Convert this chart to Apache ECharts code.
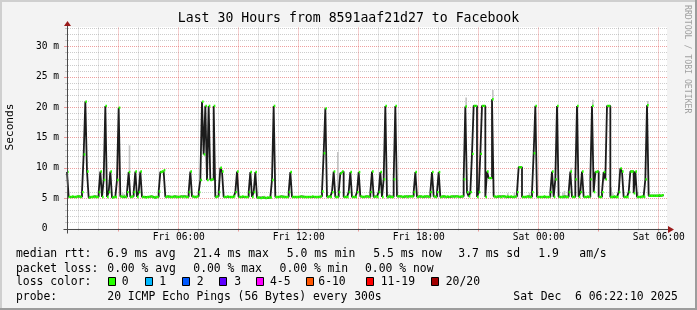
<!DOCTYPE html>
<html><head><meta charset="utf-8">
<script src="https://cdn.jsdelivr.net/npm/echarts@6/dist/echarts.min.js"></script>
<style>html,body{margin:0;padding:0;background:#f3f3f3}#c{width:697px;height:310px}</style>
</head><body><div id="c"></div>
<script>
// time axis in hours after Fri 00:00; first 5-minute sample starts at T0
const T0 = 0.45;
const STEP = 5 / 60;
const SPAN = 30;
const YMAX = 33.2;

// median rtt (ms), one value per 5-minute step, 12 per hour
const medianRtt = [
  9.3,5.2,5.2,5.3,5.2,5.2,5.3,5.3,5.2,6.0,12.2,20.9,
  9.4,5.1,5.2,5.2,5.3,5.2,5.2,6.0,9.4,5.2,8.0,20.2,
  5.2,6.0,9.4,5.1,5.2,5.2,8.0,19.9,5.3,5.2,5.3,5.2,
  6.0,9.3,5.2,5.3,6.0,9.4,5.2,6.0,9.4,5.2,5.2,5.1,
  5.2,5.2,5.3,5.2,5.1,5.2,5.2,6.1,9.3,9.4,9.6,5.2,
  5.3,5.2,5.2,5.2,5.3,5.2,5.2,5.2,5.3,5.2,5.3,5.2,
  5.2,6.0,9.4,5.3,5.2,5.2,5.3,6.0,8.0,20.9,12.2,20.2,
  8.0,20.2,8.0,8.1,20.2,5.2,5.3,6.0,10.0,9.4,5.2,5.2,
  5.3,5.2,5.2,5.2,5.3,6.0,9.4,5.2,5.2,5.3,5.2,5.2,
  5.2,6.0,9.3,5.2,6.0,9.3,5.1,5.1,5.0,5.1,5.1,5.0,
  5.1,5.1,5.1,8.0,20.2,5.2,5.2,5.2,5.3,5.2,5.2,5.2,
  5.2,6.0,9.3,5.2,5.2,5.2,5.2,5.2,5.3,5.2,5.2,5.2,
  5.2,5.2,5.2,5.3,5.2,5.2,5.2,5.2,5.3,6.1,12.4,19.8,
  5.2,5.3,5.2,6.0,9.4,5.2,5.2,6.0,9.1,9.4,5.2,5.2,
  5.2,6.0,9.3,5.2,5.2,5.2,6.0,9.3,5.3,5.2,5.2,5.3,
  5.3,5.2,6.0,9.4,5.2,5.3,5.2,6.0,9.3,5.2,8.1,20.2,
  5.2,5.3,5.2,5.2,8.1,20.2,5.3,5.3,5.3,5.2,5.3,5.3,
  5.2,5.3,5.3,5.3,6.0,9.3,5.2,5.3,5.3,5.2,5.3,5.3,
  5.3,5.2,6.0,9.3,5.3,5.2,6.0,9.3,5.2,5.3,5.3,5.2,
  5.3,5.2,5.3,5.3,5.2,5.3,5.3,5.2,5.3,5.3,8.1,20.1,
  6.0,5.3,6.0,12.3,20.2,20.2,5.2,6.0,12.3,20.2,20.2,5.2,
  9.4,8.3,8.3,21.3,5.3,5.2,5.3,5.3,5.2,5.3,5.3,5.2,
  5.3,5.2,5.3,5.2,5.2,5.3,6.0,10.1,10.1,5.2,5.2,5.2,
  5.3,5.2,5.2,6.0,12.4,20.2,5.2,5.2,5.2,5.2,5.3,5.2,
  5.2,5.2,6.0,9.4,5.2,8.1,20.2,5.2,5.2,5.2,5.3,5.2,
  5.2,6.0,9.4,5.2,5.2,8.1,20.2,5.2,6.0,9.4,5.2,5.2,
  5.3,5.2,8.1,20.2,6.0,9.3,9.4,5.2,5.2,6.0,9.3,8.1,
  20.2,20.2,5.2,5.2,5.3,5.2,5.2,6.0,9.9,9.4,5.2,5.2,
  5.2,6.0,9.4,9.4,5.8,9.4,5.2,5.2,5.2,5.3,5.2,8.1,
  20.3,5.4,5.4,5.4,5.4,5.4,5.4,5.5,5.4,5.5,null,null
];

// visible smoke (ping spread) patches: [step index, low ms, high ms]
const smoke = [
  [33,5.0,5.8],[34,5.0,5.7],[37,9.3,13.7],[116,4.9,5.3],[117,4.9,5.3],[118,4.9,5.4],[119,4.9,5.3],
  [162,6.0,12.6],[192,4.9,5.6],[193,5.0,5.7],[239,20.1,21.6],[255,21.3,22.8],[264,5.0,5.8],
  [268,5.0,5.9],[277,5.0,5.9],[297,4.9,5.9],[298,5.0,6.2],[302,9.4,10.0],[315,20.2,21.2],
  [326,5.0,6.8],[327,5.0,5.8],[342,5.0,6.0],[348,20.3,21.0]
];

const xMinorHours = [1,2,3,4,5,6,7,8,9,10,11,12,13,14,15,16,17,18,19,20,21,22,23,24,25,26,27,28,29,30];
const xMajorHours = [3,6,9,12,15,18,21,24,27,30];
const xLabelHours = [6,12,18,24,30];
const xLabels = ['Fri 06:00','Fri 12:00','Fri 18:00','Sat 00:00','Sat 06:00'];
const yMinor = [1,2,3,4,5,6,7,8,9,10,11,12,13,14,15,16,17,18,19,20,21,22,23,24,25,26,27,28,29,30,31,32,33];
const yMajor = [5,10,15,20,25,30];

const lossColors = ['#26ff00','#00b8ff','#0059ff','#5e00ff','#ff00ff','#ff5500','#ff0000','#a10000'];
const lossLabels = ['0','1','2','3','4-5','6-10','11-19','20/20'];

const MONO = '"DejaVu Sans Mono", monospace';
const GRIDC = 'rgba(143,143,143,0.45)';
const MGRIDC = 'rgba(224,80,80,0.55)';
const AXC = '#4a4a4a';
const ARC = '#9b1b1b';

const chart = echarts.init(document.getElementById('c'), null, {renderer:'canvas'});

function px(v){ return Math.round(v) + 0.5; }

const graphics = [];
// 3D frame
graphics.push({type:'rect', shape:{x:0,y:0,width:697,height:2}, style:{fill:'#cfcfcf'}, silent:true});
graphics.push({type:'rect', shape:{x:0,y:0,width:2,height:310}, style:{fill:'#cfcfcf'}, silent:true});
graphics.push({type:'rect', shape:{x:695,y:0,width:2,height:310}, style:{fill:'#9c9c9c'}, silent:true});
graphics.push({type:'rect', shape:{x:0,y:308,width:697,height:2}, style:{fill:'#9c9c9c'}, silent:true});
// title
graphics.push({type:'text', x:348.5, y:19, silent:true, style:{text:'Last 30 Hours from 8591aaf21d27 to Facebook', font:'13.2px '+MONO, fill:'#000', align:'center', verticalAlign:'middle'}});
// y title
graphics.push({type:'text', x:10, y:127, rotation:Math.PI/2, silent:true, style:{text:'Seconds', font:'11.2px '+MONO, fill:'#000', align:'center', verticalAlign:'middle'}});
// watermark
graphics.push({type:'text', x:687, y:5, rotation:-Math.PI/2, silent:true, style:{text:'RRDTOOL / TOBI OETIKER', font:'8.2px '+MONO, fill:'#a0a0a0', align:'left', verticalAlign:'middle'}});

const LF = '11.4px ' + MONO;
function lt(x, y, s){ graphics.push({type:'text', x:x, y:y, silent:true, style:{text:s, font:LF, fill:'#000', align:'left', verticalAlign:'middle'}}); }
const L1 = 253.8, L2 = 268.6, L3 = 282, L4 = 296.6;
lt(16, L1, 'median rtt:'); lt(107, L1, '6.9 ms avg'); lt(193.3, L1, '21.4 ms max'); lt(286.7, L1, '5.0 ms min');
lt(373.3, L1, '5.5 ms now'); lt(458.3, L1, '3.7 ms sd'); lt(538.3, L1, '1.9'); lt(579.3, L1, 'am/s');
lt(16, L2, 'packet loss:'); lt(107.3, L2, '0.00 % avg'); lt(193.3, L2, '0.00 % max'); lt(279.6, L2, '0.00 % min'); lt(365, L2, '0.00 % now');
lt(16, L3, 'loss color:');
const boxX = [108.5,145.5,182.5,219.5,256.5,306.5,366.5,431.5];
const labX = [121.7,159.3,196.7,234.3,270,318.3,380.7,445.7];
lossColors.forEach((c,i)=>{
  graphics.push({type:'rect', shape:{x:boxX[i], y:277.5, width:7, height:8}, style:{fill:c, stroke:'#000', lineWidth:1}, silent:true});
  lt(labX[i], L3, lossLabels[i]);
});
lt(16, L4, 'probe:'); lt(107.3, L4, '20 ICMP Echo Pings (56 Bytes) every 300s'); lt(513.3, L4, 'Sat Dec  6 06:22:10 2025');

const medData = medianRtt.map((v,i)=>[T0 + i*STEP, v]);

chart.setOption({
  animation:false,
  backgroundColor:'#f3f3f3',
  grid:{left:67, top:27, width:600, height:201.5, show:true, backgroundColor:'#ffffff', borderWidth:0},
  xAxis:{type:'value', min:T0, max:T0+SPAN, show:false},
  yAxis:{type:'value', min:0, max:YMAX, interval:5,
    axisLine:{show:false}, axisTick:{show:false}, splitLine:{show:false},
    axisLabel:{showMaxLabel:false, margin:8, fontFamily:'DejaVu Sans Mono', fontSize:9.6, color:'#000',
      formatter:(v)=> (v % 5 !== 0) ? '' : (v === 0 ? '0  ' : v + ' m')}},
  graphic:{elements:graphics},
  series:[
    {type:'custom', name:'hgrid', z:1, silent:true, data:yMinor.map(v=>[T0, v]),
      renderItem:(p, api)=>{
        const v = api.value(1);
        const a = api.coord([T0, v]), b = api.coord([T0+SPAN, v]);
        const major = yMajor.indexOf(v) >= 0;
        const y = px(a[1]);
        return {type:'group', children:[
          {type:'line', shape:{x1:a[0]+1, y1:y, x2:b[0], y2:y}, style:{stroke: major?MGRIDC:GRIDC, lineWidth:1, lineDash:[1,1]}},
          {type:'line', shape:{x1:a[0]-(major?3:2), y1:y, x2:a[0], y2:y}, style:{stroke: major?MGRIDC:GRIDC, lineWidth:1}}
        ]};
      }},
    {type:'custom', name:'vgrid', z:1, silent:true, data:xMinorHours.map(h=>[h, 0]),
      renderItem:(p, api)=>{
        const h = api.value(0);
        const a = api.coord([h, 0]), b = api.coord([h, YMAX]);
        const major = xMajorHours.indexOf(h) >= 0;
        const x = px(a[0]);
        return {type:'group', children:[
          {type:'line', shape:{x1:x, y1:a[1], x2:x, y2:b[1]}, style:{stroke: major?MGRIDC:GRIDC, lineWidth:1, lineDash:[1,1]}},
          {type:'line', shape:{x1:x, y1:a[1], x2:x, y2:a[1]+(major?3:2)}, style:{stroke: major?MGRIDC:GRIDC, lineWidth:1}}
        ]};
      }},
    {type:'custom', name:'smoke', z:2, silent:true, data:smoke.map(s=>[T0 + s[0]*STEP, s[1], s[2]]),
      renderItem:(p, api)=>{
        const t = api.value(0);
        const a = api.coord([t, api.value(2)]), b = api.coord([t+STEP, api.value(1)]);
        return {type:'rect', shape:{x:a[0], y:a[1], width:b[0]-a[0], height:b[1]-a[1]}, style:{fill:'#c4c4c4'}};
      }},
    {type:'line', name:'rtt', z:3, silent:true, data:medData, step:'end', showSymbol:false, connectNulls:false,
      lineStyle:{color:'#1c1c1c', width:1.8}},
    {type:'custom', name:'median', z:4, silent:true, data:medData.filter(d=>d[1]!=null),
      renderItem:(p, api)=>{
        const t = api.value(0), v = api.value(1);
        const a = api.coord([t, v]), b = api.coord([t+STEP, v]);
        return {type:'rect', shape:{x:a[0], y:a[1]-1.2, width:b[0]-a[0], height:2.4}, style:{fill:'#26ff00'}};
      }},
    {type:'custom', name:'frame', z:5, silent:true, data:[[T0, 0]],
      renderItem:(p, api)=>{
        const o = api.coord([T0, 0]), e = api.coord([T0+SPAN, 0]), t = api.coord([T0, YMAX]);
        const x0 = px(o[0]), y0 = px(o[1]), xe = e[0];
        return {type:'group', children:[
          {type:'line', shape:{x1:x0-4, y1:y0, x2:xe+2, y2:y0}, style:{stroke:AXC, lineWidth:1}},
          {type:'line', shape:{x1:x0, y1:y0+4, x2:x0, y2:t[1]-1}, style:{stroke:AXC, lineWidth:1}},
          {type:'polygon', shape:{points:[[xe+1,y0-3.5],[xe+7,y0],[xe+1,y0+3.5]]}, style:{fill:ARC}},
          {type:'polygon', shape:{points:[[x0-3.5,t[1]-1],[x0,t[1]-6],[x0+3.5,t[1]-1]]}, style:{fill:ARC}}
        ]};
      }},
    {type:'custom', name:'xlabels', z:5, silent:true, data:xLabelHours.map((h,i)=>[h, 0, i]),
      renderItem:(p, api)=>{
        const a = api.coord([api.value(0), 0]);
        return {type:'text', x:a[0]+0.8, y:a[1]+9, style:{text:xLabels[api.value(2)], font:'9.6px '+MONO, fill:'#000', align:'center', verticalAlign:'middle'}};
      }}
  ]
});
</script></body></html>
